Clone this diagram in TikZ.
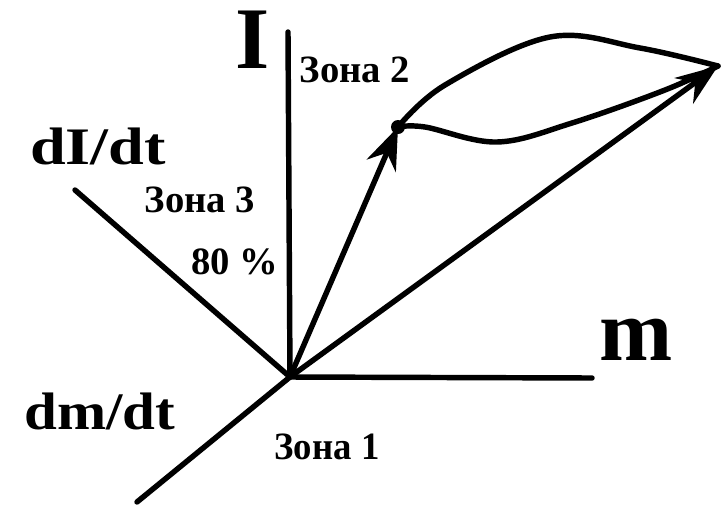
\documentclass[tikz,border=0pt]{standalone}
\usepackage{fontspec}
\setmainfont{Liberation Serif}
\usetikzlibrary{arrows.meta}
\tikzset{
  axis/.style={line width=3.1pt, line cap=round},
  vec/.style={line width=3.1pt, -{Stealth[length=24pt,width=18pt,inset=8pt]}},
  curveline/.style={line width=3.1pt, line cap=round},
  big/.style={font=\bfseries\fontsize{50}{50}\selectfont, inner sep=0pt},
  axlabel/.style={font=\bfseries\fontsize{30}{30}\selectfont, inner sep=0pt},
  zone/.style={font=\bfseries\fontsize{22}{22}\selectfont, inner sep=0pt}
}
\begin{document}
\begin{tikzpicture}[x=0.02cm, y=-0.02cm]
\useasboundingbox (0,0) rectangle (721,508);
% key points
\coordinate (O) at (290,377);
\coordinate (Itop) at (288,32);
\coordinate (mEnd) at (592,378);
\coordinate (dIEnd) at (75,190);
\coordinate (dmEnd) at (137,502);
\coordinate (P) at (398,127);
\coordinate (Q) at (718,66);
\coordinate (u1) at (445,85);
\coordinate (u2) at (550,37);
\coordinate (u3) at (640,48);
\coordinate (l1) at (425,127);
\coordinate (l2) at (497,142);
\coordinate (l3) at (572,123);
\coordinate (l4) at (665,90);
% axes
\draw[axis] (O) -- (Itop);
\draw[axis] (O) -- (mEnd);
\draw[axis] (O) -- (dIEnd);
\draw[axis] (O) -- (dmEnd);
% vectors
\draw[vec] (O) -- (P);
\draw[vec] (O) -- (Q);
% loop curves
\draw[curveline] plot[smooth, tension=0.6] coordinates {(P) (u1) (u2) (u3) (Q)};
\draw[curveline] plot[smooth, tension=0.6] coordinates {(P) (l1) (l2) (l3) (l4) (Q)};
\fill (P) circle (7);
% labels
\node[big] (lI) at (253,40) {I};
\node[big] (lm) at (636,340) {m};
\node[axlabel, xscale=1.22] (ldI) at (98,146) {dI/dt};
\node[axlabel, xscale=1.12] (ldm) at (100,411) {dm/dt};
\node[zone] (z2) at (355,70) {Зона 2};
\node[zone] (z3) at (200,200) {Зона 3};
\node[zone] (p80) at (235,262) {80 \%};
\node[zone, xscale=0.95] (z1) at (327,447) {Зона 1};
\end{tikzpicture}
\end{document}
